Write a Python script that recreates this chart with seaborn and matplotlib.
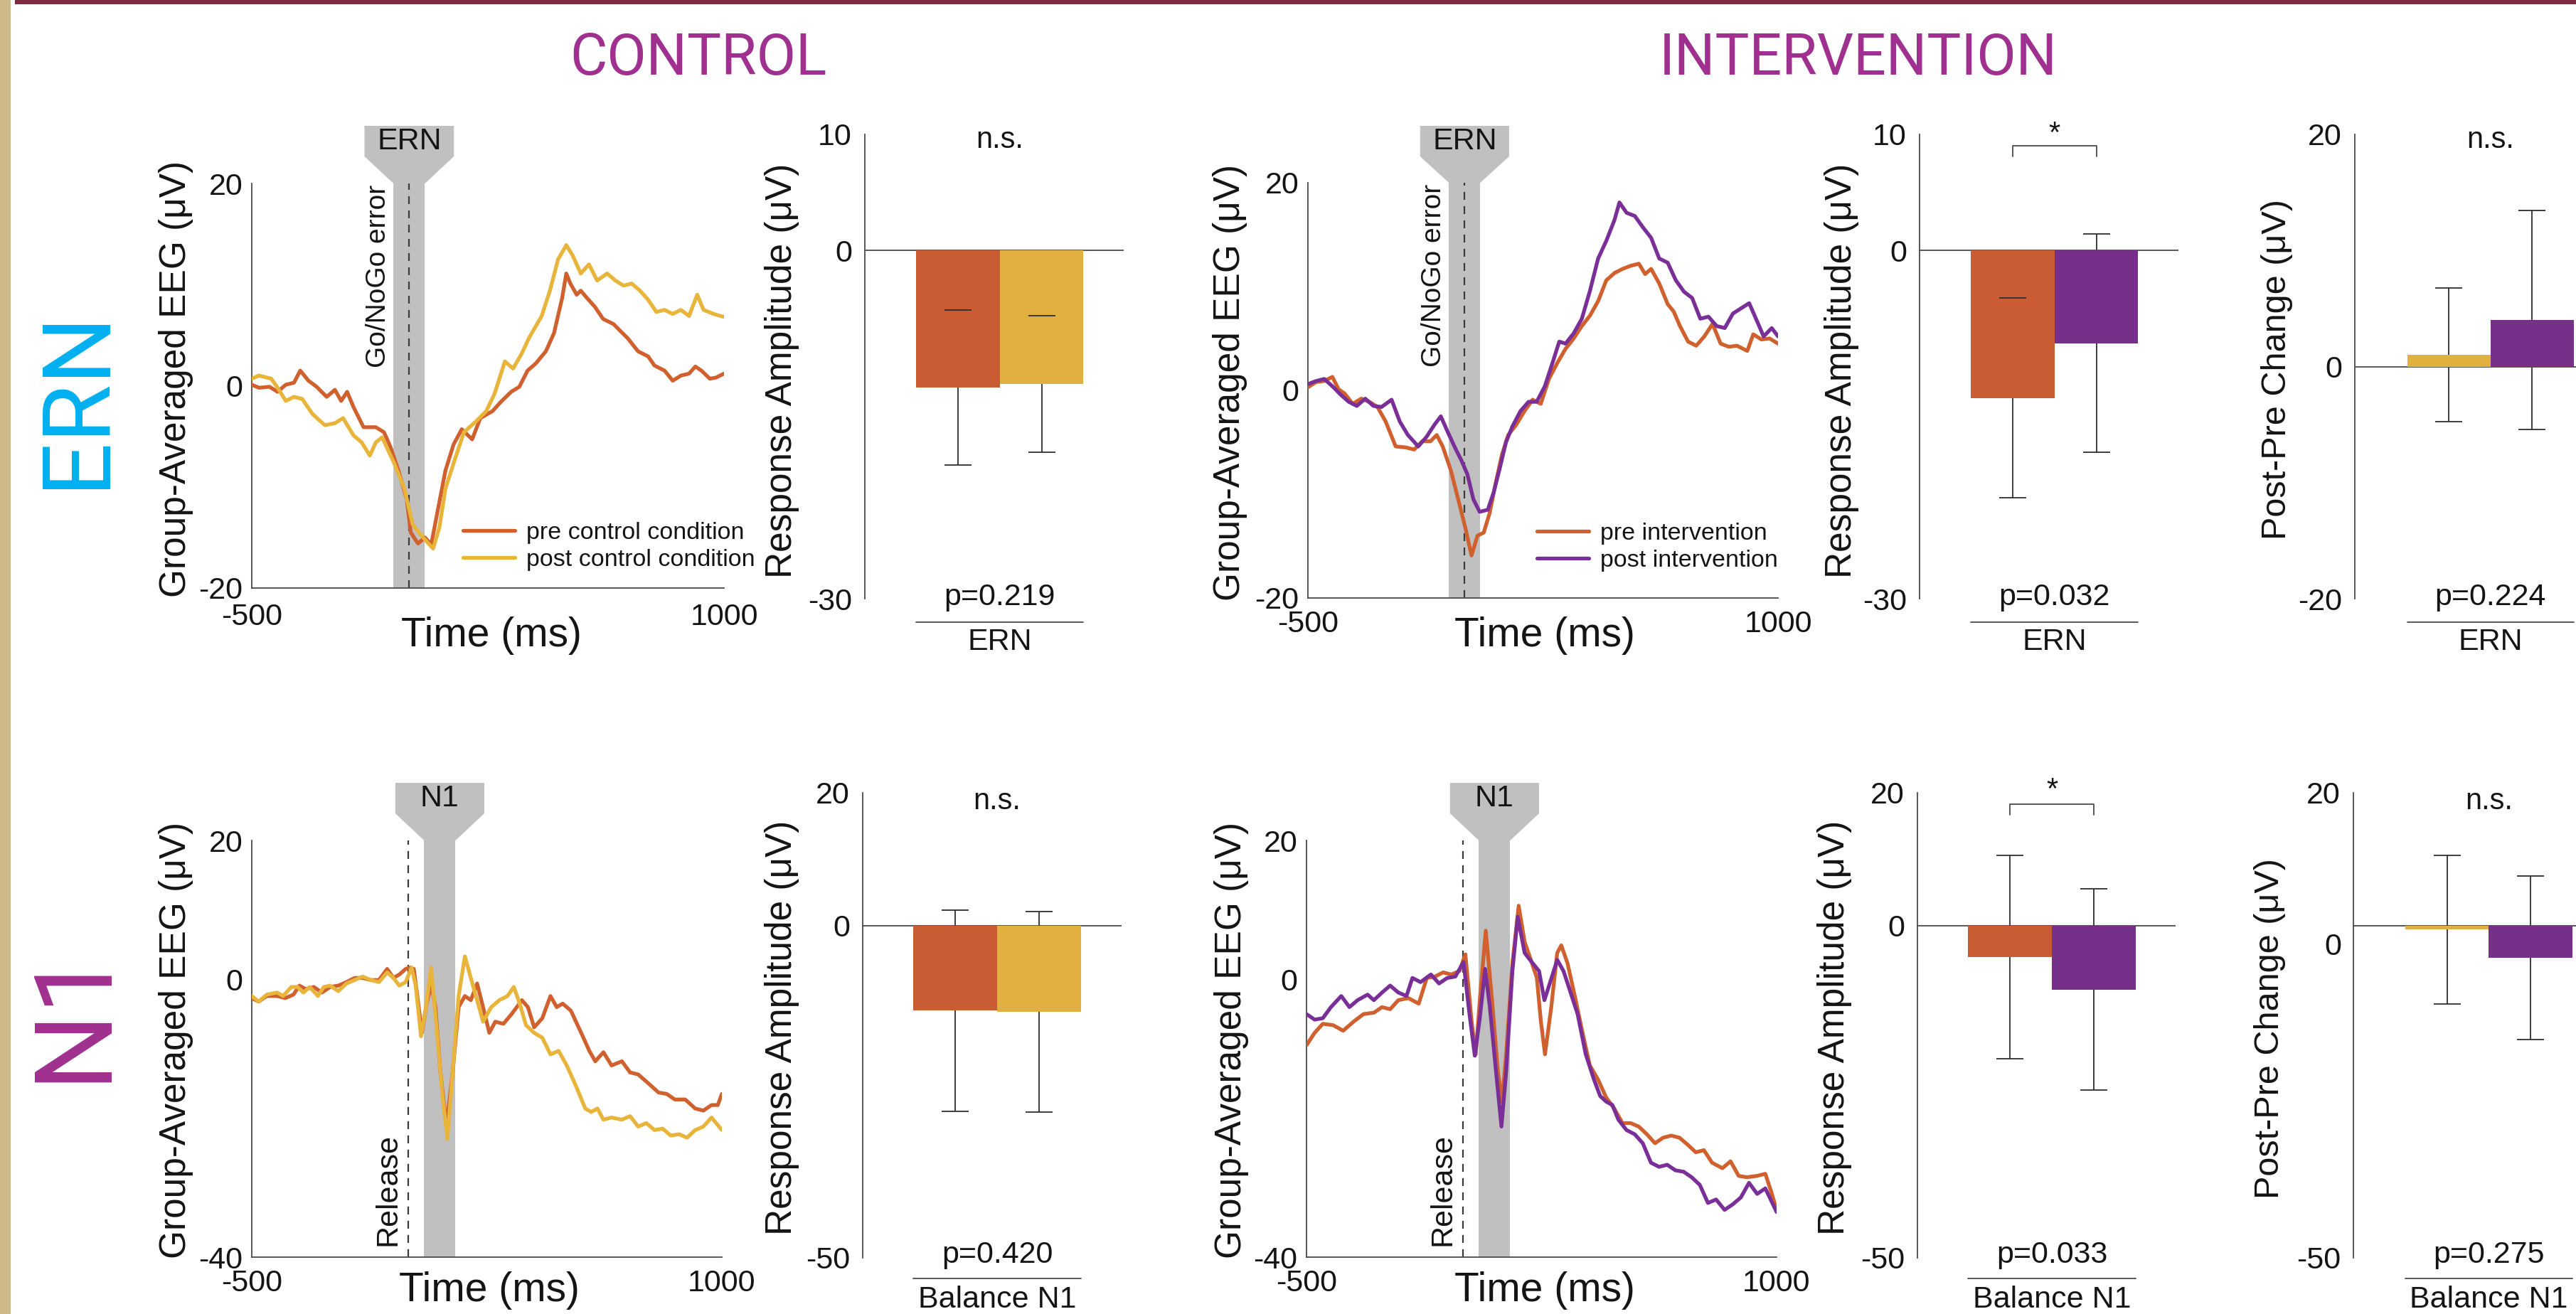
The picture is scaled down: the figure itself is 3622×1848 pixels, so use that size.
import matplotlib
matplotlib.use('Agg')
import matplotlib.pyplot as plt
import matplotlib.transforms as mtransforms
from matplotlib.patches import Polygon, Rectangle
from matplotlib.lines import Line2D
import pandas as pd
import seaborn as sns

# ---------------- waveform data (time in ms, amplitude in uV) ----------------
ern_ctrl_pre_t = [-500, -477, -444, -418, -392, -366, -346, -320, -294, -262, -236, -216, -197, -177, -145, -106,
                  -80, -60, -34, -8, 5, 28, 50, 70, 89, 115, 141, 167, 200, 226, 265, 291, 324, 350, 376, 402,
                  434, 460, 486, 499, 512, 532, 545, 564, 590, 616, 649, 668, 694, 727, 759, 779, 798, 811, 837,
                  863, 889, 909, 928, 955, 974, 1000]
ern_ctrl_pre_v = [0.1, -0.2, -0.1, -0.6, 0.1, 0.3, 1.5, 0.5, -0.1, -1.1, -0.4, -1.5, -0.6, -2.1, -4.1, -4.1,
                  -4.6, -6.0, -8.4, -11.2, -14.5, -15.6, -15.0, -15.7, -12.6, -8.4, -5.8, -4.3, -5.3, -3.2, -2.5,
                  -1.6, -0.6, -0.1, 1.5, 2.2, 3.4, 5.2, 8.7, 11.1, 10.1, 9.0, 9.4, 8.7, 7.8, 6.6, 6.1, 5.5, 4.7,
                  3.4, 2.9, 2.0, 1.7, 1.5, 0.5, 1.0, 1.2, 1.9, 1.5, 0.7, 0.8, 1.2]
ern_ctrl_post_t = [-500, -477, -438, -418, -392, -366, -340, -307, -268, -236, -210, -177, -151, -125, -106, -86,
                   -47, -15, 11, 44, 76, 96, 115, 148, 174, 213, 245, 271, 304, 330, 356, 382, 421, 447, 473, 499,
                   519, 545, 571, 597, 629, 655, 681, 707, 733, 759, 785, 811, 837, 863, 889, 915, 935, 967, 1000]
ern_ctrl_post_v = [0.7, 1.0, 0.7, -0.2, -1.5, -1.1, -1.3, -2.8, -3.9, -3.7, -3.2, -4.9, -5.6, -6.9, -5.6, -5.1,
                   -7.7, -10.2, -13.7, -15.0, -16.1, -14.0, -10.2, -7.0, -4.6, -3.5, -2.5, -0.8, 2.4, 1.7, 3.1,
                   4.8, 6.9, 9.4, 12.5, 13.9, 12.9, 11.1, 12.0, 10.4, 11.1, 10.4, 9.9, 10.1, 9.4, 8.5, 7.3, 7.5,
                   7.1, 7.5, 6.9, 9.0, 7.5, 7.1, 6.8]

ern_int_pre_t = [-500, -474, -448, -422, -402, -383, -357, -330, -304, -278, -252, -220, -187, -161, -135, -109,
                 -89, -70, -44, -18, 2, 22, 41, 61, 80, 100, 119, 139, 165, 191, 217, 243, 269, 295, 322, 348,
                 374, 400, 426, 452, 478, 504, 530, 556, 576, 595, 621, 648, 667, 687, 713, 739, 765, 791, 817,
                 843, 869, 902, 921, 947, 973, 1000]
ern_int_pre_v = [0.3, 0.8, 0.9, 1.3, 0.1, -0.3, -1.3, -0.8, -1.1, -1.6, -3.0, -5.4, -5.5, -5.7, -4.9, -4.9,
                 -4.3, -5.4, -7.7, -10.8, -13.2, -15.9, -14.0, -13.7, -11.8, -8.8, -6.2, -4.3, -3.3, -2.0, -0.9,
                 -1.3, 1.1, 2.6, 4.0, 5.0, 6.2, 7.2, 8.6, 10.6, 11.3, 11.7, 12.0, 12.2, 11.2, 11.7, 10.3, 8.3,
                 7.6, 6.2, 4.7, 4.3, 5.2, 6.4, 4.5, 4.2, 4.3, 3.8, 5.4, 4.9, 5.0, 4.5]
ern_int_post_t = [-500, -474, -448, -422, -396, -370, -344, -317, -291, -265, -233, -207, -181, -148, -122, -96,
                  -76, -57, -31, -11, 9, 28, 48, 74, 93, 113, 132, 152, 178, 204, 230, 256, 282, 302, 322, 348,
                  374, 400, 426, 452, 478, 494, 517, 543, 569, 595, 621, 648, 674, 700, 726, 752, 778, 804, 830,
                  856, 882, 908, 934, 954, 980, 1000]
ern_int_post_v = [0.6, 0.9, 1.1, 0.4, -0.4, -1.1, -1.5, -0.8, -1.5, -1.6, -0.9, -3.0, -4.3, -5.4, -4.5, -3.3,
                  -2.5, -3.8, -5.5, -6.7, -8.1, -10.5, -11.7, -11.5, -9.8, -7.4, -5.0, -3.5, -2.0, -1.1, -1.1,
                  0.4, 2.8, 4.7, 4.5, 5.5, 6.9, 9.6, 12.7, 14.4, 16.4, 18.1, 17.1, 16.8, 15.7, 14.7, 12.7, 12.3,
                  10.6, 9.5, 8.9, 6.9, 7.1, 6.2, 6.0, 7.4, 7.9, 8.4, 6.6, 5.2, 6.0, 5.2]

n1_ctrl_pre_t = [-500, -478, -452, -419, -393, -367, -348, -328, -302, -276, -250, -224, -198, -172, -146, -120,
                 -94, -68, -48, -29, -9, 4, 17, 30, 43, 56, 72, 86, 102, 121, 141, 160, 180, 199, 219, 238, 258,
                 277, 303, 329, 362, 381, 401, 427, 453, 473, 492, 518, 551, 577, 596, 622, 648, 681, 707, 733,
                 766, 798, 824, 850, 883, 915, 941, 967, 987, 1000]
n1_ctrl_pre_v = [-2.7, -3.2, -2.4, -2.4, -2.7, -2.2, -0.9, -1.4, -1.1, -1.9, -1.1, -0.9, -0.4, 0.2, 0.2, -0.1,
                 -0.1, 1.5, 0.2, 0.7, 1.5, 1.7, 1.5, -3.0, -7.7, -4.0, -0.6, -4.0, -13.4, -21.2, -13.4, -4.0,
                 -2.4, -3.0, -0.6, -4.0, -7.7, -6.1, -6.4, -5.0, -3.0, -4.0, -6.9, -5.6, -2.4, -4.0, -3.5, -4.5,
                 -7.7, -10.3, -11.8, -10.5, -12.4, -11.8, -13.4, -13.7, -15.0, -16.3, -16.5, -17.3, -17.3, -18.6,
                 -18.9, -18.1, -18.1, -16.5]
n1_ctrl_post_t = [-500, -478, -452, -419, -400, -374, -354, -335, -315, -289, -270, -250, -224, -198, -172, -146,
                  -120, -94, -68, -48, -29, -9, 10, 23, 40, 56, 72, 88, 108, 124, 141, 160, 180, 199, 219, 238,
                  264, 290, 316, 336, 355, 375, 401, 427, 453, 479, 505, 531, 564, 583, 603, 622, 648, 681, 707,
                  733, 759, 785, 811, 837, 863, 889, 915, 941, 967, 1000]
n1_ctrl_post_v = [-2.4, -3.2, -2.2, -1.9, -2.4, -1.1, -1.1, -1.9, -1.1, -2.4, -1.1, -0.9, -1.7, -0.6, -0.1, 0.4,
                  -0.1, -0.4, 1.0, 0.2, -0.9, -0.4, 1.7, -0.9, -8.2, -4.0, 1.7, -6.1, -16.5, -23.0, -13.4, -2.4,
                  3.3, 0.2, -3.0, -6.1, -4.0, -3.0, -2.4, -1.1, -3.5, -6.6, -7.7, -8.4, -10.8, -10.3, -12.4,
                  -15.0, -18.6, -19.1, -18.6, -20.2, -19.9, -20.2, -19.7, -21.2, -20.7, -21.7, -21.5, -22.5,
                  -22.3, -22.8, -21.7, -21.2, -19.9, -21.7]

n1_int_pre_t = [-500, -474, -448, -415, -383, -350, -318, -285, -259, -233, -207, -175, -142, -116, -90, -64,
                -38, -12, 7, 27, 40, 53, 72, 92, 111, 124, 137, 157, 177, 196, 216, 235, 248, 261, 281, 300,
                313, 333, 359, 378, 404, 430, 456, 482, 508, 534, 560, 586, 612, 638, 664, 690, 716, 742, 768,
                794, 827, 853, 879, 905, 938, 964, 983, 1000]
n1_int_pre_v = [-9.5, -7.7, -6.4, -6.6, -7.4, -6.1, -5.0, -4.8, -4.0, -4.3, -3.0, -2.7, -3.5, 0.2, 0.4, 1.0,
                0.7, 1.2, 3.6, -6.1, -10.8, -3.0, 7.0, -3.0, -13.4, -17.6, -10.8, 2.3, 10.6, 5.4, 2.8, 0.2,
                -6.1, -10.8, -4.0, 3.8, 4.9, 2.3, -3.0, -7.1, -12.4, -14.4, -17.0, -18.6, -20.7, -20.7, -21.2,
                -22.3, -23.6, -22.8, -22.5, -22.8, -23.8, -24.9, -24.6, -26.4, -27.2, -26.2, -28.3, -28.5,
                -28.3, -28.0, -30.6, -33.2]
n1_int_post_t = [-500, -474, -448, -422, -389, -363, -337, -305, -285, -259, -233, -207, -181, -162, -136, -103,
                 -77, -51, -25, 1, 20, 37, 53, 70, 85, 105, 122, 137, 157, 174, 196, 222, 242, 259, 274, 300,
                 320, 339, 365, 391, 417, 437, 456, 476, 495, 521, 547, 573, 599, 625, 651, 677, 703, 729, 755,
                 781, 807, 834, 860, 886, 912, 938, 964, 983, 1000]
n1_int_post_v = [-5.0, -5.8, -5.6, -4.0, -2.4, -4.0, -3.0, -2.2, -3.0, -1.9, -0.9, -1.9, -2.4, 0.2, -0.4, 0.7,
                 -0.6, 0.2, 0.4, 2.5, -5.0, -11.0, -5.6, 1.5, -4.0, -13.4, -21.2, -13.4, 1.2, 9.0, 3.8, 2.3,
                 1.2, -3.0, -0.9, 2.8, 1.2, -1.4, -5.0, -10.8, -14.4, -16.8, -17.6, -18.1, -20.2, -21.7, -22.3,
                 -23.6, -26.4, -27.0, -26.7, -27.5, -27.7, -28.5, -29.6, -32.2, -31.7, -33.2, -32.4, -31.4,
                 -29.3, -30.9, -30.1, -31.9, -33.5]

# ---------------- bar data (mean, SD) ----------------
ern_ctrl_mean, ern_ctrl_sd = [-11.8, -11.5], [6.7, 5.9]
ern_int_mean, ern_int_sd = [-12.7, -8.0], [8.6, 9.4]
ern_diff_mean, ern_diff_sd = [1.0, 4.0], [5.75, 9.45]
n1_ctrl_mean, n1_ctrl_sd = [-12.8, -13.0], [15.1, 15.1]
n1_int_mean, n1_int_sd = [-4.7, -9.6], [15.3, 15.1]
n1_diff_mean, n1_diff_sd = [-0.6, -4.8], [11.2, 12.3]
p_values = {'ern_ctrl': 'p=0.219', 'ern_int': 'p=0.032', 'ern_diff': 'p=0.224',
            'n1_ctrl': 'p=0.420', 'n1_int': 'p=0.033', 'n1_diff': 'p=0.275'}

# ---------------- style ----------------
ORANGE, YELLOW, PURPLE = '#C95C32', '#E2B040', '#76308A'
L_ORANGE, L_YELLOW, L_PURPLE = '#D0602E', '#E8B43A', '#7A2E98'
BAND = '#C0C0C0'
AX = '#4a4a4a'
TXT = '#141414'
LW = 3.8

sns.set_style('white')
plt.rcParams['font.family'] = ['Liberation Sans', 'DejaVu Sans']
plt.rcParams['axes.linewidth'] = 1.3
plt.rcParams['axes.edgecolor'] = AX

W, H = 3622, 1848
fig = plt.figure(figsize=(W / 100, H / 100), dpi=100)
px = mtransforms.Affine2D().scale(1 / W, -1 / H).translate(0, 1) + fig.transFigure


def add_ax(x0, x1, y0, y1):
    return fig.add_axes([x0 / W, 1 - y1 / H, (x1 - x0) / W, (y1 - y0) / H])


def y_axis(ax, ylim, yticks, ylabels, ylabel, ylab_xy, size=37, pad=9):
    ax.set_ylim(*ylim)
    ax.set_yticks(yticks)
    ax.set_yticklabels(ylabels)
    ax.tick_params(axis='y', direction='in', length=8, width=1.1, color=AX,
                   labelsize=31, labelcolor=TXT, pad=pad)
    ax.set_ylabel(ylabel, fontsize=size, color=TXT, va='center', ha='center')
    ax.yaxis.set_label_coords(*ylab_xy, transform=px)


def wave(ax, t_pre, v_pre, t_post, v_post, names, colors, ylim, yticks, ylabels,
         win, tag, box_px, ylab_xy, xlab_xy, xpad, event, leg_xy=None):
    df = pd.concat([pd.DataFrame({'time': t_pre, 'amp': v_pre, 'cond': names[0]}),
                    pd.DataFrame({'time': t_post, 'amp': v_post, 'cond': names[1]})])
    ax.axvspan(win[0], win[1], color=BAND, lw=0, zorder=0)
    ax.axvline(0, color='#3a3a3a', lw=1.6, ls=(0, (5, 4)), zorder=1)
    sns.lineplot(data=df, x='time', y='amp', hue='cond', hue_order=names,
                 palette=dict(zip(names, colors)), estimator=None, linewidth=LW,
                 legend=False, ax=ax, zorder=3)
    sns.despine(ax=ax)

    # label box above the analysis window
    tr = mtransforms.blended_transform_factory(ax.transData, px)
    mid = (win[0] + win[1]) / 2
    top, rbot, atop = box_px
    ax.add_patch(Polygon([(mid - 142, top), (mid + 142, top), (mid + 142, rbot), (win[1], atop),
                          (win[0], atop), (mid - 142, rbot)], closed=True, transform=tr,
                         fc=BAND, ec='none', clip_on=False, zorder=0))
    ax.text(mid, (top + rbot) / 2, tag, transform=tr, ha='center', va='center', fontsize=31, color=TXT)

    ax.set_xlim(-500, 1000)
    ax.set_xticks([-500, 0, 500, 1000])
    ax.set_xticklabels(['-500', '', '', '1000'])
    ax.tick_params(axis='x', direction='in', length=8, width=1.1, color=AX,
                   labelsize=31, labelcolor=TXT, pad=xpad)
    ax.set_xlabel('Time (ms)', fontsize=41, color=TXT, va='center')
    ax.xaxis.set_label_coords(*xlab_xy, transform=px)
    y_axis(ax, ylim, yticks, ylabels, 'Group-Averaged EEG (μV)', ylab_xy)

    txt, ex, ey, va, fs = event
    ax.text(ex, ey, txt, transform=mtransforms.blended_transform_factory(ax.transData, ax.transAxes),
            rotation=90, ha='center', va=va, fontsize=fs, color=TXT)

    if leg_xy is not None:
        handles = [Line2D([], [], color=c, lw=LW) for c in colors]
        ax.legend(handles, names, loc='upper left', bbox_to_anchor=leg_xy, bbox_transform=px,
                  frameon=False, fontsize=24.5, handlelength=2.15, handletextpad=0.47,
                  labelspacing=0.2, borderpad=0, borderaxespad=0, labelcolor=TXT)


def bars(ax, means, sds, colors, xlim, ylim, yticks, ylabels, ylabel, ylab_xy,
         top_txt, ptxt, group, row_px, bracket=None, ylsize=37):
    cats = ['pre', 'post']
    sns.barplot(x=cats, y=means, hue=cats, palette=colors, width=1.0, saturation=1,
                errorbar=None, legend=False, linewidth=0, ax=ax, zorder=2)
    eb = ax.errorbar([0, 1], means, yerr=sds, fmt='none', ecolor='#2e2e2e', elinewidth=1.3,
                     capsize=13.5, capthick=1.3, zorder=1)
    for cap in eb[1]:
        cap.set_zorder(3)
    ax.axhline(0, color=AX, lw=1.3, zorder=1.5)
    sns.despine(ax=ax, bottom=True)
    ax.set_xlim(*xlim)
    ax.set_xticks([])
    ax.set_xlabel('')
    y_axis(ax, ylim, yticks, ylabels, ylabel, ylab_xy, size=ylsize, pad=13)

    tr = mtransforms.blended_transform_factory(ax.transData, px)
    ns_y, p_y, line_y, grp_y, star_y = row_px
    if bracket is None:
        ax.text(0.5, ns_y, top_txt, transform=tr, ha='center', va='center', fontsize=30, color=TXT)
    else:
        lo, hi = bracket
        ax.plot([0, 0, 1, 1], [lo, hi, hi, lo], color=AX, lw=1.3, clip_on=False)
        ax.text(0.5, star_y, top_txt, transform=tr, ha='center', va='baseline', fontsize=30, color=TXT)
    ax.text(0.5, p_y, ptxt, transform=tr, ha='center', va='center', fontsize=31, color=TXT)
    ax.plot([-0.5, 1.5], [line_y, line_y], transform=tr, color=AX, lw=1.3, clip_on=False)
    ax.text(0.5, grp_y, group, transform=tr, ha='center', va='center', fontsize=31, color=TXT)


# ---------------- page decorations ----------------
fig.add_artist(Rectangle((0, 0), 15, H, transform=px, color='#CDB98A', lw=0))
fig.add_artist(Rectangle((21, 0), W - 21, 6, transform=px, color='#7B2C41', lw=0))
thin_font = ['Roboto', 'Liberation Sans', 'DejaVu Sans']
fig.text(982, 83, 'CONTROL', transform=px, ha='center', va='center', fontsize=58,
         color='#A0308F', family=thin_font)
fig.text(2613, 83, 'INTERVENTION', transform=px, ha='center', va='center', fontsize=58,
         color='#A0308F', family=thin_font)
fig.text(108, 560, 'ERN', transform=px, ha='center', va='center', rotation=90, fontsize=96,
         color='#00B0F0', family=thin_font)
fig.text(104, 1425, 'N1', transform=px, ha='center', va='center', rotation=90, fontsize=110,
         color='#A0308F', family=thin_font)

ern_ticks, ern_lbl = [-20, -10, 0, 10, 20], ['-20', '', '0', '', '20']
n1_ticks, n1_lbl = [-40, -30, -20, -10, 0, 10, 20], ['-40', '', '', '', '0', '', '20']
go_evt = ('Go/NoGo error', -98, 0.997, 'top', 28)
rel_evt = ('Release', -65, 0.027, 'bottom', 31)

# ---------------- waveforms ----------------
wave(add_ax(354, 1018, 258, 827), ern_ctrl_pre_t, ern_ctrl_pre_v, ern_ctrl_post_t, ern_ctrl_post_v,
     ['pre control condition', 'post control condition'], [L_ORANGE, L_YELLOW], (-20, 20),
     ern_ticks, ern_lbl, (-50, 50), 'ERN', (177, 220, 258), (247, 533), (691, 894), 15, go_evt, (651, 734))
wave(add_ax(1839, 2500, 257, 841), ern_int_pre_t, ern_int_pre_v, ern_int_post_t, ern_int_post_v,
     ['pre intervention', 'post intervention'], [L_ORANGE, L_PURPLE], (-20, 20),
     ern_ticks, ern_lbl, (-50, 50), 'ERN', (177, 220, 257), (1730, 538), (2172, 894), 12, go_evt,
     (2161, 735))
wave(add_ax(354, 1015, 1182, 1768), n1_ctrl_pre_t, n1_ctrl_pre_v, n1_ctrl_post_t, n1_ctrl_post_v,
     ['pre control condition', 'post control condition'], [L_ORANGE, L_YELLOW], (-40, 20),
     n1_ticks, n1_lbl, (50, 150), 'N1', (1101, 1144, 1182), (247, 1463), (688, 1815), 12, rel_evt)
wave(add_ax(1837, 2498, 1182, 1768), n1_int_pre_t, n1_int_pre_v, n1_int_post_t, n1_int_post_v,
     ['pre intervention', 'post intervention'], [L_ORANGE, L_PURPLE], (-40, 20),
     n1_ticks, n1_lbl, (50, 150), 'N1', (1101, 1144, 1182), (1731, 1463), (2172, 1815), 12, rel_evt)

# ---------------- bar charts ----------------
row1 = (197, 840, 875, 903, 200)
row2 = (1127, 1765, 1798, 1828, 1123)
amp1_ticks, amp1_lbl = [-30, -20, -10, 0, 10], ['-30', '', '', '0', '10']
amp2_ticks = [-50, -40, -30, -20, -10, 0, 10, 20]
amp2_lbl = ['-50', '', '', '', '', '0', '', '20']

bars(add_ax(1216, 1580, 189, 842), ern_ctrl_mean, ern_ctrl_sd, [ORANGE, YELLOW], (-1.115, 1.983),
     (-30, 10), amp1_ticks, amp1_lbl, 'Response Amplitude (μV)', (1100, 521),
     'n.s.', p_values['ern_ctrl'], 'ERN', row1)
bars(add_ax(2699, 3063, 189, 842), ern_int_mean, ern_int_sd, [ORANGE, PURPLE], (-1.115, 1.983),
     (-30, 10), amp1_ticks, amp1_lbl, 'Response Amplitude (μV)', (2590, 521),
     '*', p_values['ern_int'], 'ERN', row1, bracket=(8.1, 9.0))
bars(add_ax(3311, 3675, 189, 842), ern_diff_mean, ern_diff_sd, [YELLOW, PURPLE], (-1.13, 1.98),
     (-20, 20), [-20, -10, 0, 10, 15, 20], ['-20', '', '0', '', '', '20'], 'Post-Pre Change (μV)',
     (3201, 520), 'n.s.', p_values['ern_diff'], 'ERN', row1, ylsize=35)

bars(add_ax(1213, 1577, 1115, 1769), n1_ctrl_mean, n1_ctrl_sd, [ORANGE, YELLOW], (-1.10, 1.98),
     (-50, 20), amp2_ticks, amp2_lbl, 'Response Amplitude (μV)', (1099, 1445),
     'n.s.', p_values['n1_ctrl'], 'Balance N1', row2)
bars(add_ax(2696, 3059, 1115, 1769), n1_int_mean, n1_int_sd, [ORANGE, PURPLE], (-1.10, 1.97),
     (-50, 20), amp2_ticks, amp2_lbl, 'Response Amplitude (μV)', (2580, 1445),
     '*', p_values['n1_int'], 'Balance N1', row2, bracket=(16.7, 18.3))
bars(add_ax(3309, 3673, 1115, 1769), n1_diff_mean, n1_diff_sd, [YELLOW, PURPLE], (-1.12, 1.98),
     (-50, 20), amp2_ticks, ['-50', '', '', '', '', '', '', '20'], 'Post-Pre Change (μV)',
     (3192, 1447), 'n.s.', p_values['n1_diff'], 'Balance N1', row2, ylsize=35)
fig.text(3292, 1332, '0', transform=px, ha='right', va='center', fontsize=31, color=TXT)

fig.savefig('out.png', dpi=100, facecolor='white')
